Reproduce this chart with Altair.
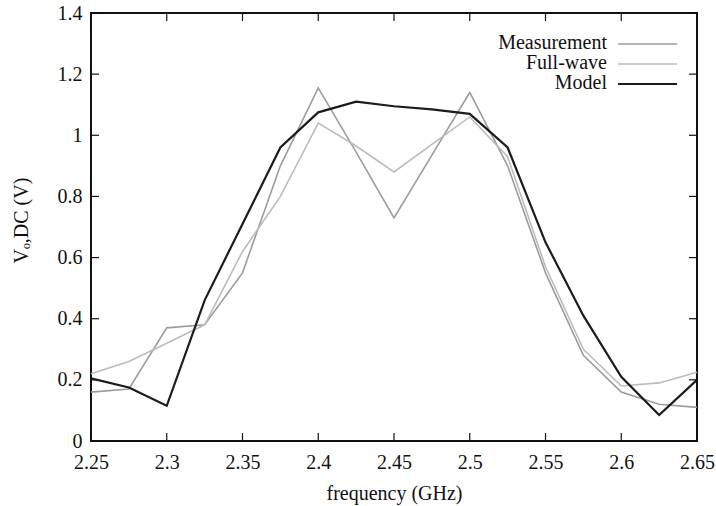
import altair as alt
import pandas as pd

freq = [2.25, 2.275, 2.3, 2.325, 2.35, 2.375, 2.4, 2.425, 2.45,
        2.475, 2.5, 2.525, 2.55, 2.575, 2.6, 2.625, 2.65]
measurement = [0.16, 0.17, 0.37, 0.38, 0.55, 0.90, 1.155, 0.945, 0.73,
               0.935, 1.14, 0.90, 0.55, 0.28, 0.16, 0.12, 0.11]
fullwave = [0.22, 0.26, 0.32, 0.38, 0.62, 0.80, 1.04, 0.965, 0.88,
            0.97, 1.06, 0.93, 0.57, 0.30, 0.18, 0.19, 0.225]
model = [0.205, 0.175, 0.115, 0.46, 0.71, 0.96, 1.075, 1.11, 1.095,
         1.085, 1.07, 0.96, 0.65, 0.41, 0.21, 0.085, 0.20]

series_names = ["Measurement", "Full-wave", "Model"]
series_colors = ["#9c9c9c", "#bcbcbc", "#1c1c1c"]
series_widths = [1.6, 1.6, 2.2]

x_ticks = [2.25, 2.3, 2.35, 2.4, 2.45, 2.5, 2.55, 2.6, 2.65]
y_ticks = [0, 0.2, 0.4, 0.6, 0.8, 1.0, 1.2, 1.4]

FONT = "Times New Roman, Times, Liberation Serif, Nimbus Roman, serif"
W, H = 606, 428
TICK = 8

rows = []
for name, vals in zip(series_names, [measurement, fullwave, model]):
    for f, v in zip(freq, vals):
        rows.append({"freq": f, "v": v, "series": name})
df = pd.DataFrame(rows)

xs = alt.Scale(domain=[2.25, 2.65], nice=False, zero=False)
ys = alt.Scale(domain=[0, 1.4], nice=False, zero=False)

x_axis = alt.Axis(
    values=x_ticks, format="~g", ticks=False, domain=False, grid=False,
    labelFont=FONT, labelFontSize=20, labelColor="#111", labelPadding=11,
    labelFlush=False,
    title="frequency (GHz)", titleFont=FONT, titleFontSize=20,
    titleFontWeight="normal", titleColor="#111",
    titleY=42, titleBaseline="top")
y_axis = alt.Axis(
    values=y_ticks, format="~g", ticks=False, domain=False, grid=False,
    labelFont=FONT, labelFontSize=20, labelColor="#111", labelPadding=9,
    labelFlush=False,
    title="Vₒ,DC (V)", titleFont=FONT, titleFontSize=20,
    titleFontWeight="normal", titleColor="#111",
    titleX=-70, titleY=207, titleAngle=270, titleBaseline="middle",
    titleAlign="center")

layers = []

# inward ticks on all four sides
xt = pd.DataFrame({"freq": x_ticks})
yt = pd.DataFrame({"v": y_ticks})
for y0, y1 in [(H, H - TICK), (0, TICK)]:
    layers.append(alt.Chart(xt).mark_rule(color="#111", strokeWidth=1.2).encode(
        x=alt.X("freq:Q", scale=xs, axis=x_axis),
        y=alt.value(y0), y2=alt.value(y1)))
for x0, x1 in [(0, TICK), (W, W - TICK)]:
    layers.append(alt.Chart(yt).mark_rule(color="#111", strokeWidth=1.2).encode(
        y=alt.Y("v:Q", scale=ys, axis=y_axis),
        x=alt.value(x0), x2=alt.value(x1)))

# data lines
for name, col, sw in zip(series_names, series_colors, series_widths):
    layers.append(alt.Chart(df).transform_filter(alt.datum.series == name)
                  .mark_line(color=col, strokeWidth=sw).encode(
        x=alt.X("freq:Q", scale=xs, axis=x_axis),
        y=alt.Y("v:Q", scale=ys, axis=y_axis)))

# legend (gnuplot style: label then line sample)
leg_y = [30, 50, 70]
for name, col, sw, ly in zip(series_names, series_colors, series_widths, leg_y):
    ld = pd.DataFrame({"series": [name]})
    layers.append(alt.Chart(ld).mark_text(
        align="right", baseline="middle", font=FONT, fontSize=20, color="#111").encode(
        text="series:N", x=alt.value(516), y=alt.value(ly)))
    layers.append(alt.Chart(ld).mark_rule(color=col, strokeWidth=sw).encode(
        x=alt.value(527), x2=alt.value(586), y=alt.value(ly + 1)))

chart = alt.layer(*layers).properties(
    width=W, height=H,
    autosize=alt.AutoSizeParams(type="none"),
    padding={"left": 91, "top": 13, "right": 19, "bottom": 65},
    background="white",
).configure_view(stroke="#111", strokeWidth=2)

chart.save("out.html", embed_options={"renderer": "svg", "actions": False})
